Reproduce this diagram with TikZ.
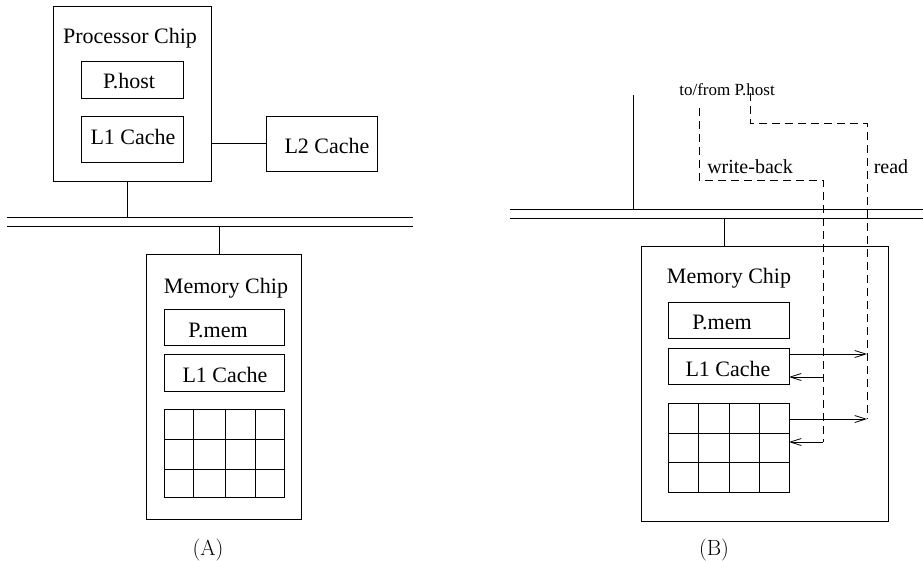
\documentclass[tikz,border=0pt]{standalone}
\usepackage{fontspec}
\newfontfamily\tms{Liberation Serif}
\usetikzlibrary{arrows.meta}
\begin{document}
\begin{tikzpicture}[x=1pt,y=-1pt,
  wire/.style={line width=0.8pt},
  box/.style={draw,line width=0.8pt,rectangle,inner sep=0pt,outer sep=0pt},
  lbl/.style={font=\tms\fontsize{22}{24}\selectfont,anchor=base,inner sep=0pt},
  smalllbl/.style={font=\tms\fontsize{20}{22}\selectfont,anchor=base,inner sep=0pt},
  tinylbl/.style={font=\tms\fontsize{17}{19}\selectfont,anchor=base,inner sep=0pt},
  caption/.style={font=\fontsize{22}{24}\selectfont,anchor=base,inner sep=0pt},
  path/.style={line width=0.9pt,dash pattern=on 8pt off 5pt},
  flow/.style={line width=0.8pt,-{Straight Barb[length=11pt,width=7pt]}}
]
\useasboundingbox (0,0) rectangle (923,560);

% ---------------- (A) host side ----------------
\node[box,minimum width=158pt,minimum height=175pt] (proc) at (132,93.5) {};
\node[box,minimum width=102pt,minimum height=37pt] (phost) at (132,79.5) {};
\node[box,minimum width=102pt,minimum height=46pt] (l1p) at (132,139) {};
\node[box,minimum width=111pt,minimum height=55pt] (l2) at (321.5,143.5) {};
\node[lbl] (tproc) at (130,43) {Processor Chip};
\node[lbl] (tphost) at (129,88) {P.host};
\node[lbl] (tl1p) at (133,144) {L1 Cache};
\node[lbl] (tl2) at (327,153) {L2 Cache};
\draw[wire] (l2.west) -- (l2.west -| proc.east);

% bus (A)
\coordinate (aTopL) at (7,217);   \coordinate (aTopR) at (413,217);
\coordinate (aBotL) at (7,226);   \coordinate (aBotR) at (413,226);
\draw[wire] (aTopL) -- (aTopR);
\draw[wire] (aBotL) -- (aBotR);
\coordinate (aProcTap) at (127,217);
\draw[wire] (proc.south -| aProcTap) -- (aProcTap);

% memory chip (A)
\node[box,minimum width=155pt,minimum height=265pt] (memA) at (223.5,386.5) {};
\coordinate (aMemTap) at (219,226);
\draw[wire] (aMemTap) -- (aMemTap |- memA.north);
\node[box,minimum width=120pt,minimum height=36pt] (pmemA) at (224,327) {};
\node[box,minimum width=120pt,minimum height=37pt] (l1A) at (224,372.5) {};
\node[lbl] (tmemA) at (226,293) {Memory Chip};
\node[lbl] (tpmemA) at (218,337) {P.mem};
\node[lbl] (tl1A) at (225,382) {L1 Cache};
\node[box,minimum width=120pt,minimum height=88pt] (gridA) at (224,453) {};
\foreach \x in {193,225,255} \draw[wire] (\x,409) -- (\x,497);
\foreach \y in {439,469} \draw[wire] (164,\y) -- (284,\y);
\node[caption] (capA) at (208,555) {(A)};

% ---------------- (B) memory side ----------------
\coordinate (bTopL) at (510,209);  \coordinate (bTopR) at (923,209);
\coordinate (bBotL) at (510,218);  \coordinate (bBotR) at (923,218);
\draw[wire] (bTopL) -- (bTopR);
\draw[wire] (bBotL) -- (bBotR);
\coordinate (bHostEnd) at (633,95);
\draw[wire] (bHostEnd) -- (bHostEnd |- bTopL);

\node[box,minimum width=247pt,minimum height=275pt] (memB) at (764.5,383.5) {};
\coordinate (bMemTap) at (724,218);
\draw[wire] (bMemTap) -- (bMemTap |- memB.north);
\node[box,minimum width=121pt,minimum height=36pt] (pmemB) at (728.5,320) {};
\node[box,minimum width=121pt,minimum height=36pt] (l1B) at (728.5,366) {};
\node[lbl] (tmemB) at (729,283) {Memory Chip};
\node[lbl] (tpmemB) at (722,329) {P.mem};
\node[lbl] (tl1B) at (728,376) {L1 Cache};
\node[box,minimum width=121pt,minimum height=89pt] (gridB) at (728.5,447.5) {};
\foreach \x in {698,729,759} \draw[wire] (\x,403) -- (\x,492);
\foreach \y in {433,462} \draw[wire] (668,\y) -- (789,\y);
\node[caption] (capB) at (714,555) {(B)};

% labels of the two transfer paths
\node[tinylbl] (tfrom) at (727,95) {to/from P.host};
\node[smalllbl] (twb) at (750,173) {write-back};
\node[smalllbl] (trd) at (891,173) {read};

% write-back path
\coordinate (wb0) at (699,108);
\coordinate (wb1) at (699,180);
\coordinate (wb2) at (823,180);
\coordinate (wbL1) at (823,377);
\coordinate (wbG) at (823,442);
\draw[path] (wb0) -- (wb1) -- (wb2) -- (wbG);
\draw[flow] (wbL1) -- (wbL1 -| l1B.east);
\draw[flow] (wbG) -- (wbG -| gridB.east);

% read path
\coordinate (rd0) at (750,93);
\coordinate (rd1) at (750,123);
\coordinate (rd2) at (867,123);
\coordinate (rdL1) at (867,354);
\coordinate (rdG) at (867,419);
\draw[path] (rd0) -- (rd1) -- (rd2) -- (rdG);
\draw[flow] (rdL1 -| l1B.east) -- (rdL1);
\draw[flow] (rdG -| gridB.east) -- (rdG);
\end{tikzpicture}
\end{document}
